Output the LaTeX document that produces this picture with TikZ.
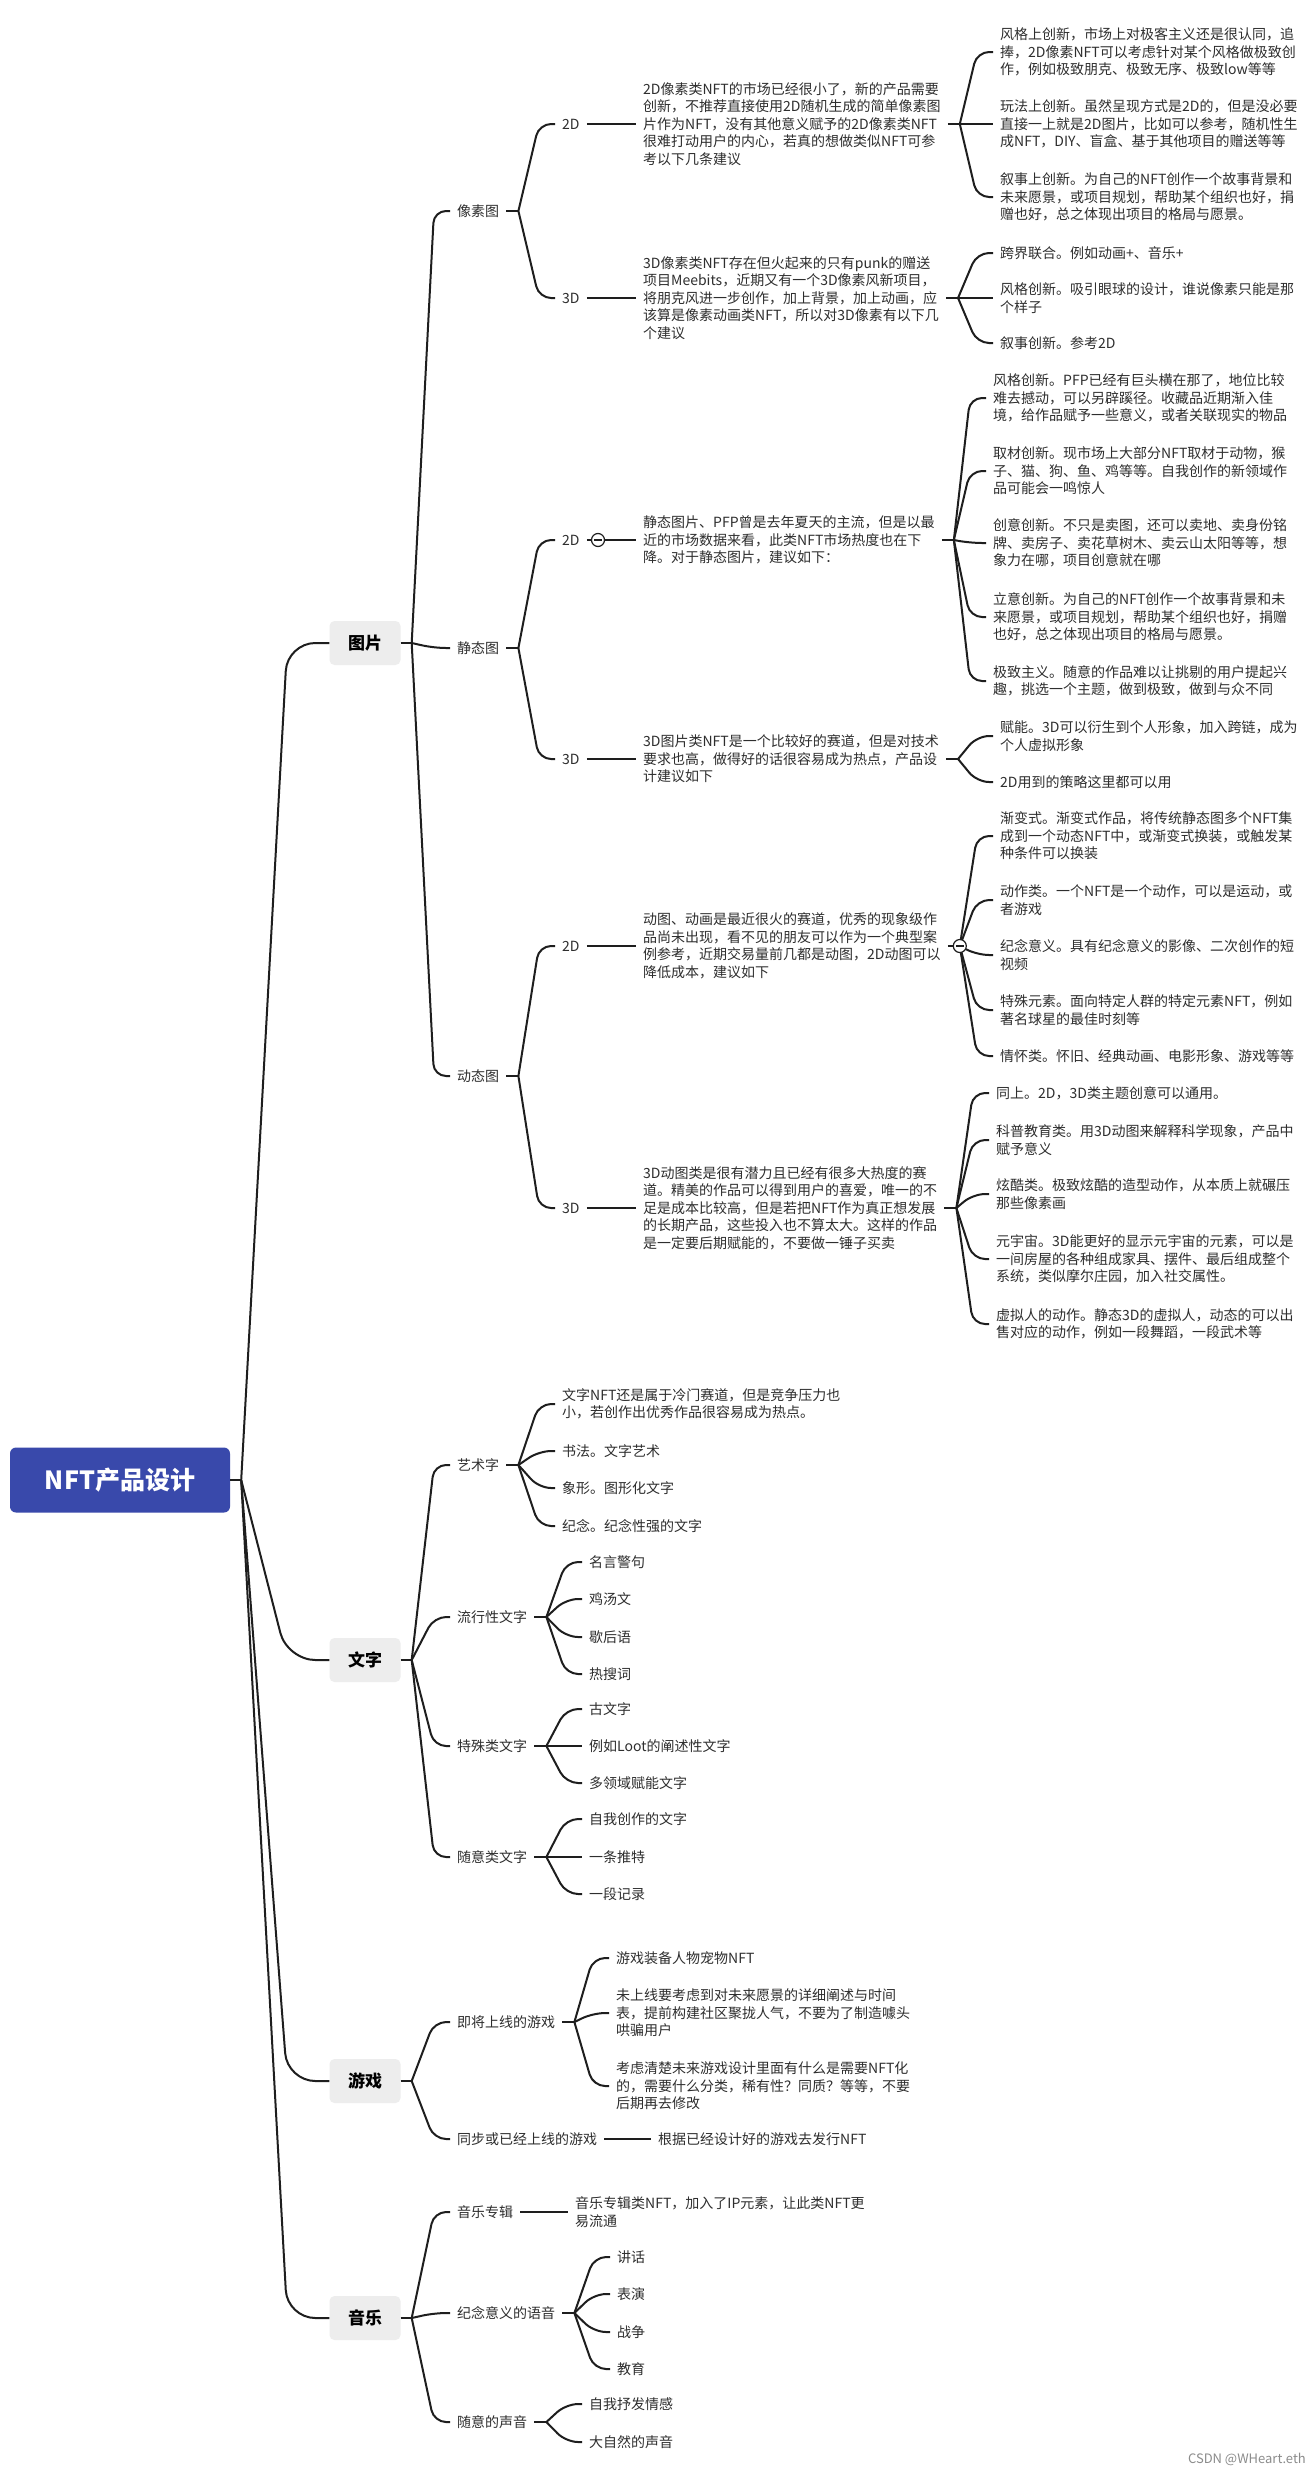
\documentclass[tikz,border=0pt]{standalone}
\usepackage{fontspec}
\setmainfont{Noto Sans CJK SC}
\definecolor{linec}{HTML}{1E1E1E}
\definecolor{textc}{HTML}{2E2E2E}
\definecolor{catfill}{HTML}{EDEDED}
\definecolor{rootfill}{HTML}{3949AB}
\newcommand\fs{\fontsize{14}{17.5}\selectfont}
\newcommand\fan[2]{\draw[conn] (#1) -- ([xshift=-16pt]#2.west) -- (#2.west);}
\newcommand\trunkto[2]{\draw[trunk] (#1) -- ([xshift=-42pt]#2.west) -- (#2.west);}
\newcommand\stub[2]{\coordinate (#2) at ([xshift=12pt]#1.east); \draw[conn] (#1.east) -- (#2);}
\begin{document}
\begin{tikzpicture}[x=1pt,y=-1pt,
  conn/.style={line width=2pt, draw=linec, rounded corners=12pt},
  trunk/.style={line width=2pt, draw=linec, rounded corners=28pt},
  txt/.style={anchor=west, inner xsep=7pt, inner ysep=3pt, align=left, font=\fs, text=textc},
  cat/.style={fill=catfill, rounded corners=5pt, minimum width=71pt, minimum height=44pt, inner sep=0pt, font=\fontsize{17}{20}\selectfont\bfseries, text=black},
  rootbox/.style={fill=rootfill, rounded corners=6pt, minimum width=220pt, minimum height=65pt, inner sep=0pt, font=\fontsize{25}{30}\selectfont\bfseries, text=white},
  collapse/.style={circle, draw=linec, line width=1.2pt, fill=white, minimum size=13pt, inner sep=0pt}]
\useasboundingbox (0,0) rectangle (1312,2476);
\fill[white] (0,0) rectangle (1312,2476);

% root and categories
\node[rootbox] (root) at (120,1480) {NFT产品设计};
\coordinate (jroot) at ([xshift=11pt]root.east);
\draw[conn] (root.east) -- (jroot);
\node[cat] (pic) at (365,643) {图片};
\node[cat] (wz) at (365,1660) {文字};
\node[cat] (game) at (365,2081) {游戏};
\node[cat] (music) at (365,2318) {音乐};
\trunkto{jroot}{pic}
\trunkto{jroot}{wz}
\trunkto{jroot}{game}
\trunkto{jroot}{music}

% ===== 图片 =====
\node[txt] (pix) at (450,211) {像素图};
\node[txt] (sta) at (450,648) {静态图};
\node[txt] (dyn) at (450,1076) {动态图};
\coordinate (jpic) at ([xshift=11pt]pic.east);
\draw[conn] (pic.east) -- (jpic);
\fan{jpic}{pix}\fan{jpic}{sta}\fan{jpic}{dyn}

\node[txt] (pix2) at (555,124) {2D};
\node[txt] (pix3) at (555,298) {3D};
\node[txt] (sta2) at (555,540) {2D};
\node[txt] (sta3) at (555,759) {3D};
\node[txt] (dyn2) at (555,946) {2D};
\node[txt] (dyn3) at (555,1208) {3D};
\stub{pix}{jpix}\fan{jpix}{pix2}\fan{jpix}{pix3}
\stub{sta}{jsta}\fan{jsta}{sta2}\fan{jsta}{sta3}
\stub{dyn}{jdyn}\fan{jdyn}{dyn2}\fan{jdyn}{dyn3}

% pixel 2D
\node[txt] (pix2d) at (636,124) {2D像素类NFT的市场已经很小了，新的产品需要\\创新，不推荐直接使用2D随机生成的简单像素图\\片作为NFT，没有其他意义赋予的2D像素类NFT\\很难打动用户的内心，若真的想做类似NFT可参\\考以下几条建议};
\draw[conn] (pix2.east) -- (pix2d.west);
\node[txt] (pix2a) at (993,52) {风格上创新，市场上对极客主义还是很认同，追\\捧，2D像素NFT可以考虑针对某个风格做极致创\\作，例如极致朋克、极致无序、极致low等等};
\node[txt] (pix2b) at (993,124) {玩法上创新。虽然呈现方式是2D的，但是没必要\\直接一上就是2D图片，比如可以参考，随机性生\\成NFT，DIY、盲盒、基于其他项目的赠送等等};
\node[txt] (pix2c) at (993,197) {叙事上创新。为自己的NFT创作一个故事背景和\\未来愿景，或项目规划，帮助某个组织也好，捐\\赠也好，总之体现出项目的格局与愿景。};
\stub{pix2d}{jpix2d}\fan{jpix2d}{pix2a}\fan{jpix2d}{pix2b}\fan{jpix2d}{pix2c}

% pixel 3D
\node[txt] (pix3d) at (636,298) {3D像素类NFT存在但火起来的只有punk的赠送\\项目Meebits，近期又有一个3D像素风新项目，\\将朋克风进一步创作，加上背景，加上动画，应\\该算是像素动画类NFT，所以对3D像素有以下几\\个建议};
\draw[conn] (pix3.east) -- (pix3d.west);
\node[txt] (pix3a) at (993,253) {跨界联合。例如动画+、音乐+};
\node[txt] (pix3b) at (993,298) {风格创新。吸引眼球的设计，谁说像素只能是那\\个样子};
\node[txt] (pix3c) at (993,343) {叙事创新。参考2D};
\stub{pix3d}{jpix3d}\fan{jpix3d}{pix3a}\fan{jpix3d}{pix3b}\fan{jpix3d}{pix3c}

% static 2D
\node[txt] (sta2d) at (636,540) {静态图片、PFP曾是去年夏天的主流，但是以最\\近的市场数据来看，此类NFT市场热度也在下\\降。对于静态图片，建议如下：};
\draw[conn] (sta2.east) -- (sta2d.west);
\node[collapse] (col1) at (598,540) {};
\draw[line width=1.2pt, draw=linec] ([xshift=-4pt]col1.center) -- ([xshift=4pt]col1.center);
\node[txt] (sta2a) at (986,398) {风格创新。PFP已经有巨头横在那了，地位比较\\难去撼动，可以另辟蹊径。收藏品近期渐入佳\\境，给作品赋予一些意义，或者关联现实的物品};
\node[txt] (sta2b) at (986,471) {取材创新。现市场上大部分NFT取材于动物，猴\\子、猫、狗、鱼、鸡等等。自我创作的新领域作\\品可能会一鸣惊人};
\node[txt] (sta2c) at (986,543) {创意创新。不只是卖图，还可以卖地、卖身份铭\\牌、卖房子、卖花草树木、卖云山太阳等等，想\\象力在哪，项目创意就在哪};
\node[txt] (sta2e) at (986,617) {立意创新。为自己的NFT创作一个故事背景和未\\来愿景，或项目规划，帮助某个组织也好，捐赠\\也好，总之体现出项目的格局与愿景。};
\node[txt] (sta2f) at (986,681) {极致主义。随意的作品难以让挑剔的用户提起兴\\趣，挑选一个主题，做到极致，做到与众不同};
\stub{sta2d}{jsta2d}\fan{jsta2d}{sta2a}\fan{jsta2d}{sta2b}\fan{jsta2d}{sta2c}\fan{jsta2d}{sta2e}\fan{jsta2d}{sta2f}

% static 3D
\node[txt] (sta3d) at (636,759) {3D图片类NFT是一个比较好的赛道，但是对技术\\要求也高，做得好的话很容易成为热点，产品设\\计建议如下};
\draw[conn] (sta3.east) -- (sta3d.west);
\node[txt] (sta3a) at (993,736) {赋能。3D可以衍生到个人形象，加入跨链，成为\\个人虚拟形象};
\node[txt] (sta3b) at (993,782) {2D用到的策略这里都可以用};
\stub{sta3d}{jsta3d}\fan{jsta3d}{sta3a}\fan{jsta3d}{sta3b}

% dynamic 2D
\node[txt] (dyn2d) at (636,946) {动图、动画是最近很火的赛道，优秀的现象级作\\品尚未出现，看不见的朋友可以作为一个典型案\\例参考，近期交易量前几都是动图，2D动图可以\\降低成本，建议如下};
\draw[conn] (dyn2.east) -- (dyn2d.west);
\node[txt] (dyn2a) at (993,836) {渐变式。渐变式作品，将传统静态图多个NFT集\\成到一个动态NFT中，或渐变式换装，或触发某\\种条件可以换装};
\node[txt] (dyn2b) at (993,900) {动作类。一个NFT是一个动作，可以是运动，或\\者游戏};
\node[txt] (dyn2c) at (993,955) {纪念意义。具有纪念意义的影像、二次创作的短\\视频};
\node[txt] (dyn2e) at (993,1010) {特殊元素。面向特定人群的特定元素NFT，例如\\著名球星的最佳时刻等};
\node[txt] (dyn2f) at (993,1056) {情怀类。怀旧、经典动画、电影形象、游戏等等};
\stub{dyn2d}{jdyn2d}\fan{jdyn2d}{dyn2a}\fan{jdyn2d}{dyn2b}\fan{jdyn2d}{dyn2c}\fan{jdyn2d}{dyn2e}\fan{jdyn2d}{dyn2f}
\node[collapse] (col2) at (jdyn2d) {};
\draw[line width=1.2pt, draw=linec] ([xshift=-4pt]col2.center) -- ([xshift=4pt]col2.center);

% dynamic 3D
\node[txt] (dyn3d) at (636,1208) {3D动图类是很有潜力且已经有很多大热度的赛\\道。精美的作品可以得到用户的喜爱，唯一的不\\足是成本比较高，但是若把NFT作为真正想发展\\的长期产品，这些投入也不算太大。这样的作品\\是一定要后期赋能的，不要做一锤子买卖};
\draw[conn] (dyn3.east) -- (dyn3d.west);
\node[txt] (dyn3a) at (989,1093) {同上。2D，3D类主题创意可以通用。};
\node[txt] (dyn3b) at (989,1140) {科普教育类。用3D动图来解释科学现象，产品中\\赋予意义};
\node[txt] (dyn3c) at (989,1194) {炫酷类。极致炫酷的造型动作，从本质上就碾压\\那些像素画};
\node[txt] (dyn3e) at (989,1259) {元宇宙。3D能更好的显示元宇宙的元素，可以是\\一间房屋的各种组成家具、摆件、最后组成整个\\系统，类似摩尔庄园，加入社交属性。};
\node[txt] (dyn3f) at (989,1324) {虚拟人的动作。静态3D的虚拟人，动态的可以出\\售对应的动作，例如一段舞蹈，一段武术等};
\stub{dyn3d}{jdyn3d}\fan{jdyn3d}{dyn3a}\fan{jdyn3d}{dyn3b}\fan{jdyn3d}{dyn3c}\fan{jdyn3d}{dyn3e}\fan{jdyn3d}{dyn3f}

% ===== 文字 =====
\coordinate (jwz) at ([xshift=11pt]wz.east);
\draw[conn] (wz.east) -- (jwz);
\node[txt] (art) at (450,1465) {艺术字};
\node[txt] (pop) at (450,1617) {流行性文字};
\node[txt] (spe) at (450,1746) {特殊类文字};
\node[txt] (ran) at (450,1857) {随意类文字};
\fan{jwz}{art}\fan{jwz}{pop}\fan{jwz}{spe}\fan{jwz}{ran}

\node[txt] (arta) at (555,1404) {文字NFT还是属于冷门赛道，但是竞争压力也\\小，若创作出优秀作品很容易成为热点。};
\node[txt] (artb) at (555,1451) {书法。文字艺术};
\node[txt] (artc) at (555,1488) {象形。图形化文字};
\node[txt] (arte) at (555,1526) {纪念。纪念性强的文字};
\stub{art}{jart}\fan{jart}{arta}\fan{jart}{artb}\fan{jart}{artc}\fan{jart}{arte}

\node[txt] (popa) at (582,1562) {名言警句};
\node[txt] (popb) at (582,1599) {鸡汤文};
\node[txt] (popc) at (582,1637) {歇后语};
\node[txt] (pope) at (582,1674) {热搜词};
\stub{pop}{jpop}\fan{jpop}{popa}\fan{jpop}{popb}\fan{jpop}{popc}\fan{jpop}{pope}

\node[txt] (spea) at (582,1709) {古文字};
\node[txt] (speb) at (582,1746) {例如Loot的阐述性文字};
\node[txt] (spec) at (582,1783) {多领域赋能文字};
\stub{spe}{jspe}\fan{jspe}{spea}\fan{jspe}{speb}\fan{jspe}{spec}

\node[txt] (rana) at (582,1819) {自我创作的文字};
\node[txt] (ranb) at (582,1857) {一条推特};
\node[txt] (ranc) at (582,1894) {一段记录};
\stub{ran}{jran}\fan{jran}{rana}\fan{jran}{ranb}\fan{jran}{ranc}

% ===== 游戏 =====
\coordinate (jgame) at ([xshift=11pt]game.east);
\draw[conn] (game.east) -- (jgame);
\node[txt] (soon) at (450,2022) {即将上线的游戏};
\node[txt] (live) at (450,2139) {同步或已经上线的游戏};
\fan{jgame}{soon}\fan{jgame}{live}
\node[txt] (soona) at (609,1958) {游戏装备人物宠物NFT};
\node[txt] (soonb) at (609,2013) {未上线要考虑到对未来愿景的详细阐述与时间\\表，提前构建社区聚拢人气，不要为了制造噱头\\哄骗用户};
\node[txt] (soonc) at (609,2086) {考虑清楚未来游戏设计里面有什么是需要NFT化\\的，需要什么分类，稀有性？同质？等等，不要\\后期再去修改};
\stub{soon}{jsoon}\fan{jsoon}{soona}\fan{jsoon}{soonb}\fan{jsoon}{soonc}
\node[txt] (livea) at (651,2139) {根据已经设计好的游戏去发行NFT};
\draw[conn] (live.east) -- (livea.west);

% ===== 音乐 =====
\coordinate (jmusic) at ([xshift=11pt]music.east);
\draw[conn] (music.east) -- (jmusic);
\node[txt] (alb) at (450,2212) {音乐专辑};
\node[txt] (voice) at (450,2313) {纪念意义的语音};
\node[txt] (sound) at (450,2422) {随意的声音};
\fan{jmusic}{alb}\fan{jmusic}{voice}\fan{jmusic}{sound}
\node[txt] (alba) at (568,2212) {音乐专辑类NFT，加入了IP元素，让此类NFT更\\易流通};
\draw[conn] (alb.east) -- (alba.west);
\node[txt] (voicea) at (610,2257) {讲话};
\node[txt] (voiceb) at (610,2294) {表演};
\node[txt] (voicec) at (610,2332) {战争};
\node[txt] (voicee) at (610,2369) {教育};
\stub{voice}{jvoice}\fan{jvoice}{voicea}\fan{jvoice}{voiceb}\fan{jvoice}{voicec}\fan{jvoice}{voicee}
\node[txt] (sounda) at (582,2404) {自我抒发情感};
\node[txt] (soundb) at (582,2442) {大自然的声音};
\stub{sound}{jsound}\fan{jsound}{sounda}\fan{jsound}{soundb}

% watermark
\node[anchor=east, inner sep=0pt, font=\fontsize{13}{15}\selectfont, text=black!45] (wm) at (1306,2459) {CSDN @WHeart.eth};
\end{tikzpicture}
\end{document}
